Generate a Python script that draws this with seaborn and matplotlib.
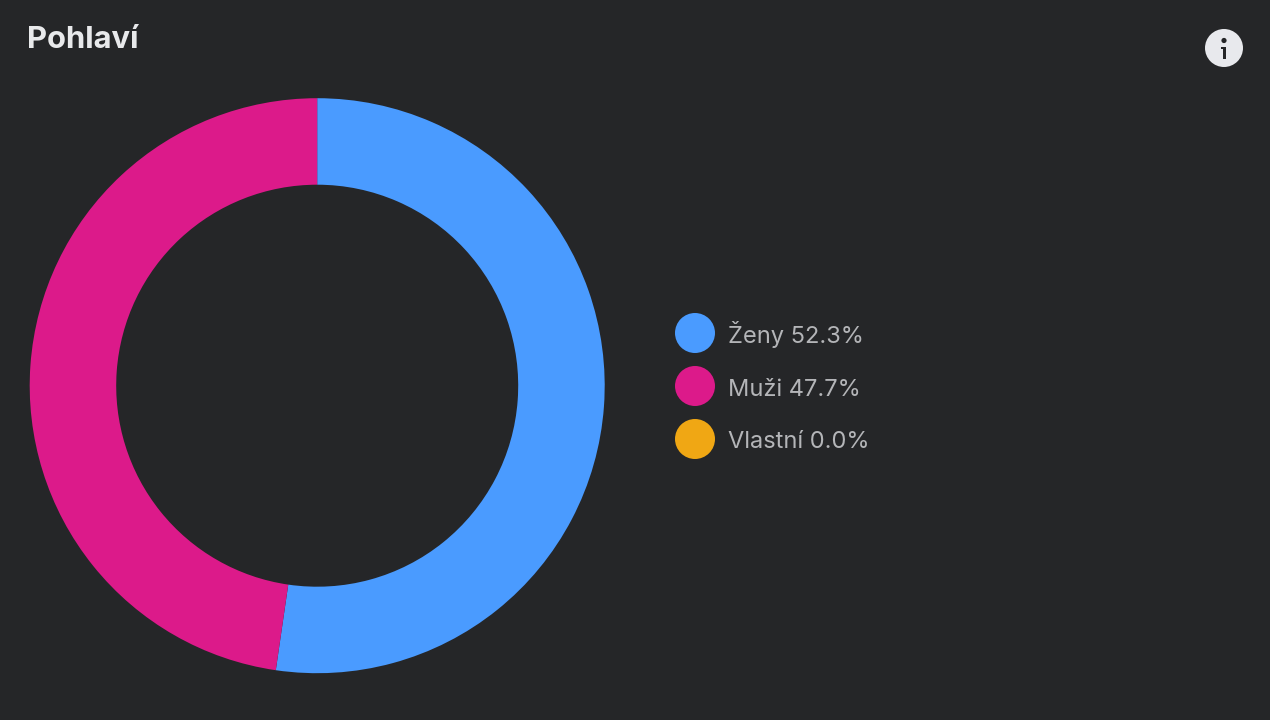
import matplotlib
matplotlib.use("Agg")
import matplotlib.pyplot as plt
import seaborn as sns
from matplotlib.patches import Circle, Rectangle

labels = ["Ženy", "Muži", "Vlastní"]
values = [52.3, 47.7, 0.0]
colors = ["#4A9BFF", "#DC1A8A", "#F0A714"]

BG = "#252628"

sns.set_theme(style="white")
plt.rcParams["font.family"] = ["Inter", "DejaVu Sans"]

fig = plt.figure(figsize=(12.7, 7.2), dpi=100, facecolor=BG)

# donut, centre (317.2, 385.7) radius 287.5 in pixels
ax = fig.add_axes([(317.2 - 287.5) / 1270, 1 - (385.7 + 287.5) / 720, 575 / 1270, 575 / 720])
ax.pie(
    values,
    colors=colors,
    startangle=90,
    counterclock=False,
    radius=1,
    wedgeprops={"width": 1 - 201 / 287.5, "linewidth": 0},
)
ax.set_xlim(-1, 1)
ax.set_ylim(-1, 1)

# overlay in pixel coordinates for legend and header
ov = fig.add_axes([0, 0, 1, 1], facecolor="none")
ov.set_xlim(0, 1270)
ov.set_ylim(720, 0)
ov.axis("off")

for label, value, color, y in zip(labels, values, colors, [333, 386, 439]):
    ov.add_patch(Circle((695, y), 20, facecolor=color, edgecolor="none"))
    ov.text(728, y + 9.5, f"{label} {value:.1f}%", color="#B4B5B8", fontsize=17, va="baseline", ha="left")

ov.text(27, 48, "Pohlaví", color="#E8E9EB", fontsize=22.3, fontweight="bold", va="baseline", ha="left")

# info icon
ov.add_patch(Circle((1224, 48), 19, facecolor="#E8E9ED", edgecolor="none"))
ov.add_patch(Circle((1224, 40.5), 2.6, facecolor=BG, edgecolor="none"))
ov.add_patch(Rectangle((1222.5, 46.5), 3.2, 12, facecolor=BG, edgecolor="none"))
ov.add_patch(Rectangle((1220.5, 46.5), 3, 2.2, facecolor=BG, edgecolor="none"))

fig.savefig("out.png", dpi=100, facecolor=BG)
